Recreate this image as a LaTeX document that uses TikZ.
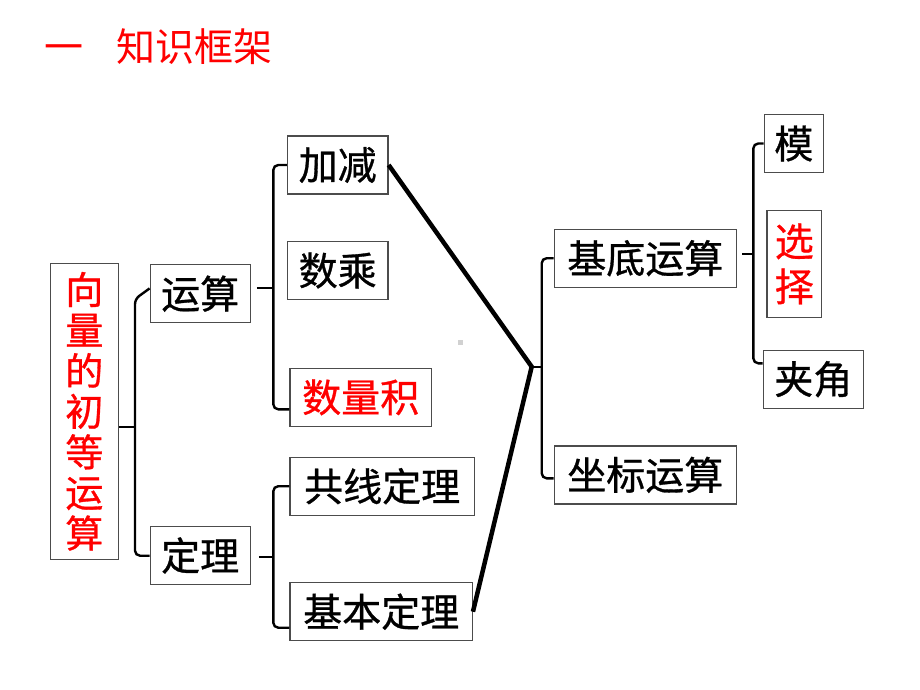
\documentclass[tikz,border=0pt]{standalone}
\usepackage{fontspec}
\setmainfont{Noto Sans CJK SC}
\newfontfamily\cjk[FakeBold=0.8]{Noto Sans CJK SC}
\newfontfamily\cjktitle{Noto Sans CJK SC}
\begin{document}
\begin{tikzpicture}[x=1pt,y=-1pt,
  box/.style={draw=black!70,line width=1.2pt,inner sep=0pt,font=\cjk\fontsize{39}{40}\selectfont,text=black},
  redt/.style={text=red},
  brk/.style={line width=2.4pt,rounded corners=5pt},
  thick line/.style={line width=4.5pt}]
\useasboundingbox (0,0) rectangle (920,690);
% title
\node[anchor=west,text=red,font=\cjktitle\fontsize{39}{40}\selectfont,inner sep=0pt] (title) at (44,47) {一\hspace{33pt}知识框架};
% nodes
\node[box,redt,minimum width=68pt,minimum height=296pt,align=center,font=\cjk\fontsize{38}{40.6}\selectfont] (main) at (84.3,411.3) {向\\量\\的\\初\\等\\运\\算};
\node[box,minimum width=100pt,minimum height=58pt] (yunsuan) at (200.2,293.7) {运算};
\node[box,minimum width=100pt,minimum height=58pt] (dingli) at (200.2,555.5) {定理};
\node[box,minimum width=100.7pt,minimum height=58pt] (jiajian) at (337.7,165) {加减};
\node[box,minimum width=100.7pt,minimum height=58pt] (shucheng) at (337.7,270.5) {数乘};
\node[box,redt,minimum width=141.3pt,minimum height=58pt] (shuliangji) at (360.7,397.3) {数量积};
\node[box,minimum width=184.3pt,minimum height=58pt] (gongxian) at (382.2,486.2) {共线定理};
\node[box,minimum width=182.3pt,minimum height=58pt] (jiben) at (381.2,611.7) {基本定理};
\node[box,minimum width=182pt,minimum height=58pt] (jidi) at (645.3,258.2) {基底运算};
\node[box,minimum width=182pt,minimum height=58pt] (zuobiao) at (645.3,474.9) {坐标运算};
\node[box,minimum width=59pt,minimum height=58pt] (mo) at (793.8,143.5) {模};
\node[box,redt,minimum width=54.7pt,minimum height=107.4pt,align=center,font=\cjk\fontsize{39}{45}\selectfont] (xuanze) at (794.3,264) {选\\择};
\node[box,minimum width=100pt,minimum height=58pt] (jiajiao) at (813.3,379.2) {夹角};
% small grey mark
\fill[black!18] (457.5,339.5) rectangle (463,345);
% brackets
\draw[line width=2.4pt] (main.east|-0,426.7) -- (135,426.7);
\draw[brk] ([yshift=5.3pt]yunsuan.west) -- (135,299) -- (135,555.7) -- (dingli.west|-0,555.7);
\draw[line width=2.4pt] ([xshift=6pt]yunsuan.east|-0,287.7) -- (273.3,287.7);
\draw[brk] (jiajian.west) -- (273.3,165) -- (273.3,409.3) -- (shuliangji.west|-0,409.3);
\draw[line width=2.4pt] ([xshift=8pt]dingli.east|-0,556.7) -- (273.3,556.7);
\draw[brk] (gongxian.west) -- (273.3,486.2) -- (273.3,627.7) -- (jiben.west|-0,627.7);
% thick connectors
\coordinate (hub) at (531.7,366.7);
\draw[thick line,line join=miter] (jiajian.east) -- (hub) -- (jiben.east);
\draw[line width=2.4pt] (hub) -- (541.7,366.7);
\draw[brk] (jidi.west) -- (541.7,258.2) -- (541.7,478.3) -- (zuobiao.west|-0,478.3);
\draw[line width=2.4pt] ([xshift=5.4pt]jidi.east|-0,254) -- (753.3,254);
\draw[brk] (mo.west) -- (753.3,143.5) -- (753.3,363.3) -- (jiajiao.west|-0,363.3);
\end{tikzpicture}
\end{document}
